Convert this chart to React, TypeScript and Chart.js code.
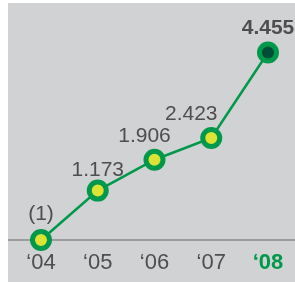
import React, { useEffect, useRef } from 'react';
import { Chart, registerables } from 'chart.js';

Chart.register(...registerables);

const YEARS = ['\u201804', '\u201805', '\u201806', '\u201807', '\u201808'];
const PROFIT = [-1, 1173, 1906, 2423, 4455];
const VALUE_LABELS = ['(1)', '1.173', '1.906', '2.423', '4.455'];

const FONT = '"Liberation Sans", Arial, sans-serif';
const GREEN = '#00984a';
const YELLOW = '#dce335';
const DARK = '#004d35';
const TEXT = '#4e4e4e';
const BG = '#d1d2d4';

// label placement relative to point (styling only)
const LABEL_DX = [0, 0, -10, -20, 0];
const LABEL_DY = [-20, -15, -18, -18, -18];

const decorPlugin = {
  id: 'decor',
  beforeDraw(chart: any) {
    const { ctx } = chart;
    ctx.save();
    ctx.fillStyle = BG;
    ctx.fillRect(8, 3, chart.width - 8, chart.height - 3);
    ctx.restore();
  },
  beforeDatasetsDraw(chart: any) {
    const { ctx } = chart;
    const y = chart.scales.y.getPixelForValue(0);
    ctx.save();
    ctx.strokeStyle = '#8a8a8a';
    ctx.lineWidth = 1.5;
    ctx.beginPath();
    ctx.moveTo(8, y);
    ctx.lineTo(chart.width, y);
    ctx.stroke();
    ctx.restore();
  },
  afterDatasetsDraw(chart: any) {
    const { ctx } = chart;
    const meta = chart.getDatasetMeta(0);
    ctx.save();
    ctx.textAlign = 'center';
    ctx.textBaseline = 'alphabetic';
    meta.data.forEach((pt: any, i: number) => {
      const last = i === VALUE_LABELS.length - 1;
      ctx.font = `${last ? 'bold ' : ''}21px ${FONT}`;
      ctx.fillStyle = TEXT;
      ctx.fillText(VALUE_LABELS[i], pt.x + LABEL_DX[i], pt.y + LABEL_DY[i]);
    });
    ctx.restore();
  },
};

export default function App() {
  const ref = useRef<HTMLCanvasElement>(null);
  useEffect(() => {
    const chart = new Chart(ref.current as HTMLCanvasElement, {
      type: 'line',
      data: {
        labels: YEARS,
        datasets: [
          {
            data: PROFIT,
            borderColor: GREEN,
            borderWidth: 2.5,
            pointRadius: 8.5,
            pointHoverRadius: 8.5,
            pointBorderWidth: 5,
            pointBorderColor: GREEN,
            pointBackgroundColor: PROFIT.map((_, i) => (i === PROFIT.length - 1 ? DARK : YELLOW)),
            tension: 0,
            clip: false as any,
          },
        ],
      },
      options: {
        responsive: false,
        animation: false,
        layout: { padding: { left: 41, right: 27, top: 3, bottom: 0 } },
        plugins: { legend: { display: false }, tooltip: { enabled: false } },
        scales: {
          x: {
            offset: false,
            grid: { display: false },
            border: { display: false },
            afterFit: (scale: any) => {
              scale.height = 42;
            },
            ticks: {
              padding: 2,
              color: (c: any) => (c.index === YEARS.length - 1 ? GREEN : TEXT),
              font: (c: any) => ({
                family: FONT,
                size: 22,
                weight: c.index === YEARS.length - 1 ? 'bold' : 'normal',
              }),
            },
          },
          y: {
            display: false,
            min: 0,
            max: 5380,
          },
        },
      },
      plugins: [decorPlugin],
    });
    return () => chart.destroy();
  }, []);
  return (
    <div style={{ position: 'fixed', left: 0, top: 0, width: 295, height: 282 }}>
      <canvas ref={ref} width={295} height={282} style={{ width: 295, height: 282, display: 'block' }} />
    </div>
  );
}
